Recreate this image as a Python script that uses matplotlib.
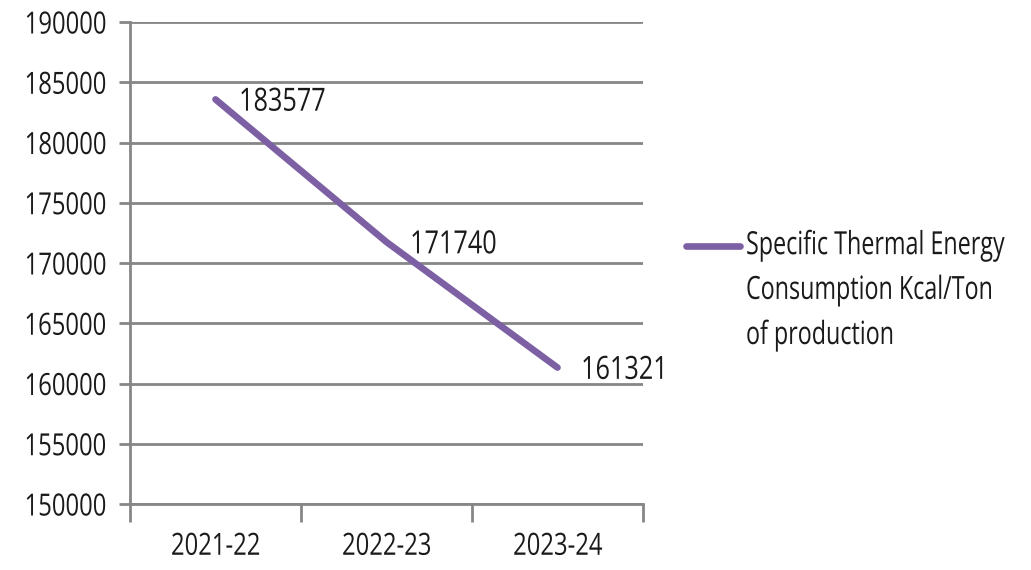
import matplotlib.pyplot as plt
from matplotlib.lines import Line2D
from matplotlib.patheffects import AbstractPathEffect
from matplotlib.ticker import FixedLocator
from matplotlib.transforms import Affine2D

years = ["2021-22", "2022-23", "2023-24"]
consumption = [183577, 171740, 161321]
series_name = "Specific Thermal Energy\nConsumption Kcal/Ton\nof production"
y_ticks = list(range(150000, 190001, 5000))

plt.rcParams['font.family'] = ['Open Sans', 'DejaVu Sans']

grid_col = '#868686'
text_col = '#1a1a1a'
line_col = '#7d60a4'
fs = 22


class Squeeze(AbstractPathEffect):
    """Draw text glyphs narrower (condensed look) around an anchor."""

    def __init__(self, sx=0.78, anchor='left'):
        super().__init__()
        self.sx = sx
        self.anchor = anchor

    def draw_path(self, renderer, gc, tpath, affine, rgbFace=None):
        ext = tpath.get_extents()
        if self.anchor == 'right':
            x0 = ext.x1
        elif self.anchor == 'center':
            x0 = (ext.x0 + ext.x1) / 2
        else:
            x0 = 0
        t = Affine2D().translate(-x0, 0).scale(self.sx, 1).translate(x0, 0) + affine
        renderer.draw_path(gc, tpath, t, rgbFace)


fig = plt.figure(figsize=(10.31, 5.70), dpi=100)
ax = fig.add_axes([130 / 1031, 1 - 504 / 570, 513 / 1031, 482 / 570])

x = list(range(len(years)))
line, = ax.plot(x, consumption, color=line_col, linewidth=4.8,
                solid_capstyle='round', zorder=3)

for xi, v in zip(x, consumption):
    ax.annotate(f"{v}", (xi, v), xytext=(17, -2), textcoords='offset points',
                ha='left', va='center', fontsize=23, color=text_col, zorder=4,
                path_effects=[Squeeze(sx=0.79, anchor='left')])

ax.set_xlim(-0.5, 2.5)
ax.set_ylim(150000, 190000)
ax.set_yticks(y_ticks)
ax.set_yticklabels([str(t) for t in y_ticks])
ax.set_xticks(x)
ax.set_xticklabels(years)
ax.xaxis.set_minor_locator(FixedLocator([-0.5, 0.5, 1.5, 2.5]))

ax.grid(axis='y', color=grid_col, linewidth=2)
ax.set_axisbelow(True)
for side in ['top', 'right']:
    ax.spines[side].set_visible(False)
for side in ['left', 'bottom']:
    ax.spines[side].set_color(grid_col)
    ax.spines[side].set_linewidth(2)

ax.tick_params(axis='y', length=8, width=2, color=grid_col, labelsize=fs,
               labelcolor=text_col, pad=9)
ax.tick_params(axis='x', which='major', length=0, labelsize=fs,
               labelcolor=text_col, pad=20)
ax.tick_params(axis='x', which='minor', length=13, width=2, color=grid_col)

for lbl in ax.get_yticklabels():
    lbl.set_path_effects([Squeeze(anchor='right')])
for lbl in ax.get_xticklabels():
    lbl.set_path_effects([Squeeze(anchor='center')])

# series key on the right: swatch level with the first text line
fig.add_artist(Line2D([686 / 1031, 740 / 1031], [1 - 246 / 570, 1 - 246 / 570],
                      transform=fig.transFigure, color=line.get_color(),
                      linewidth=line.get_linewidth(), solid_capstyle='round'))
fig.text(746 / 1031, 1 - 344 / 570, series_name, ha='left', va='baseline',
         fontsize=23, color=text_col, linespacing=1.47,
         path_effects=[Squeeze(sx=0.73, anchor='left')])

fig.savefig("out.png", dpi=100, facecolor='white')
